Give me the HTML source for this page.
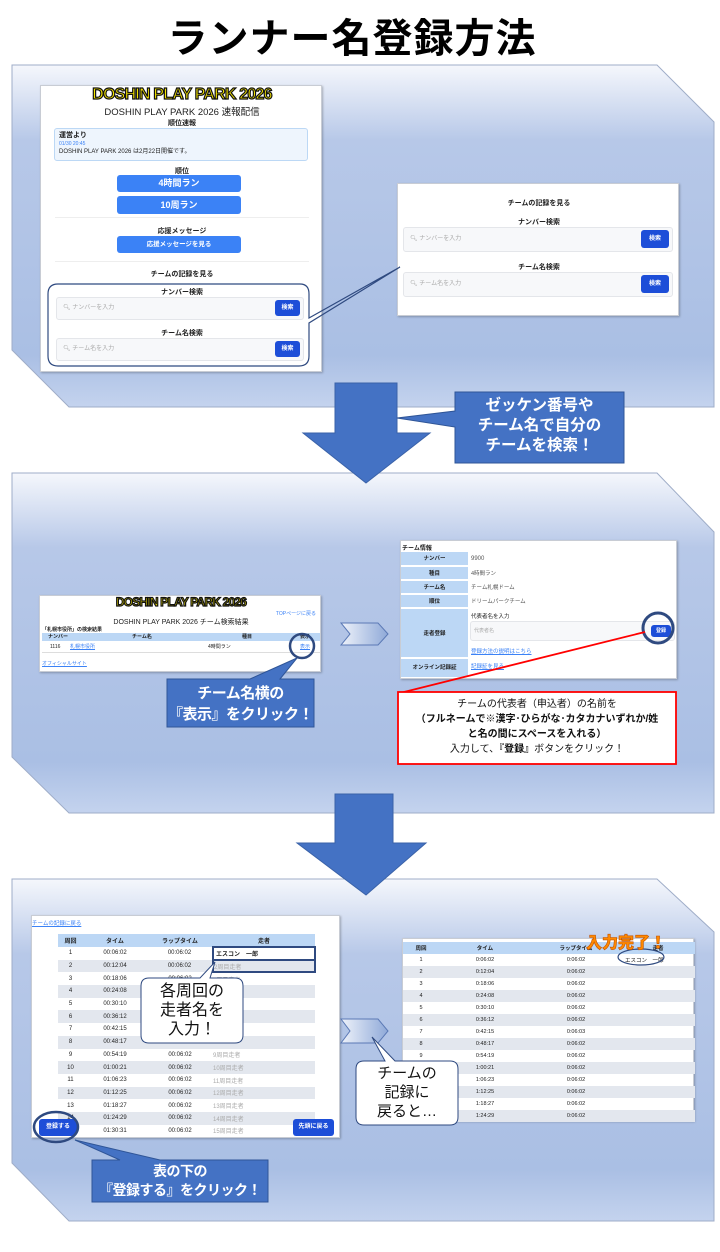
<!DOCTYPE html>
<html><head><meta charset="utf-8">
<style>
*{margin:0;padding:0;box-sizing:border-box}
body{width:720px;height:1252px;background:#fff;position:relative;overflow:hidden;font-family:"Liberation Sans","Noto Sans CJK JP",sans-serif;color:#222}
.a{position:absolute}
.c{text-align:center}
.ss{position:absolute;background:#fff;border:1px solid #c8ccd4;box-shadow:1px 1px 2px rgba(0,0,0,.25)}
.logo{font-weight:900;color:#f5e500;-webkit-text-stroke:1.2px #111;letter-spacing:-.8px;white-space:nowrap}
.btn{position:absolute;background:#3b82f6;color:#fff;border-radius:3px;text-align:center;font-weight:bold}
.db{position:absolute;background:#1d4ed8;color:#fff;border-radius:3px;text-align:center;font-size:6px;font-weight:bold}
.inp{position:absolute;background:#f7f8fa;border:1px solid #e4e6ea;border-radius:3px;font-size:6px;color:#aaa}
.t{font-size:7px;font-weight:bold;text-align:center;position:absolute}
table{border-collapse:collapse;position:absolute;font-size:6px;text-align:center;table-layout:fixed}
td,th{padding:0;overflow:hidden;white-space:nowrap}
.wt{color:#fff;text-align:center;position:absolute;white-space:nowrap}
</style></head><body>

<div class="a c" style="left:-8px;top:14px;width:720px;font-size:40px;font-weight:bold;letter-spacing:1px;color:#000;line-height:50px">ランナー名登録方法</div>

<svg class="a" style="left:0;top:0" width="720" height="1252">
<defs>
<linearGradient id="g" x1="0" y1="0" x2="0" y2="1">
<stop offset="0" stop-color="#f5f7fc"/><stop offset=".22" stop-color="#b7c8e8"/><stop offset=".85" stop-color="#aabfe4"/><stop offset="1" stop-color="#c4d3ee"/></linearGradient>
</defs>
<polygon points="12,65 657,65 714,122 714,407 69,407 12,350" fill="url(#g)" stroke="#9fadc8"/>
<polygon points="12,473 657,473 714,532 714,813 69,813 12,757" fill="url(#g)" stroke="#9fadc8"/>
<polygon points="12,879 657,879 714,932 714,1221 69,1221 12,1163" fill="url(#g)" stroke="#9fadc8"/>
</svg>

<!-- Screenshot 1 -->
<div class="ss" style="left:40px;top:85px;width:282px;height:287px">
<div class="a c logo" style="left:0;top:0;width:282px;font-size:16px">DOSHIN PLAY PARK 2026</div>
<div class="a c" style="left:0;top:18px;width:282px;font-size:9.5px">DOSHIN PLAY PARK 2026 速報配信</div>
<div class="t" style="left:0;top:32px;width:282px">順位速報</div>
<div class="a" style="left:13px;top:42px;width:254px;height:33px;background:#eef5fd;border:1px solid #bcd8f5;border-radius:3px;padding:3px 4px;font-size:6px;line-height:8px"><b style="font-size:7px">運営より</b><br><span style="color:#3b82f6;font-size:5px">01/30 20:45</span><br>DOSHIN PLAY PARK 2026 は2月22日開催です。</div>
<div class="t" style="left:0;top:80px;width:282px">順位</div>
<div class="btn" style="left:76px;top:89px;width:124px;height:17px;font-size:9px;line-height:17px">4時間ラン</div>
<div class="btn" style="left:76px;top:110px;width:124px;height:18px;font-size:9px;line-height:18px">10周ラン</div>
<div class="a" style="left:14px;top:131px;width:254px;border-top:1px solid #eee"></div>
<div class="t" style="left:0;top:140px;width:282px">応援メッセージ</div>
<div class="btn" style="left:76px;top:150px;width:124px;height:17px;font-size:6.5px;line-height:17px">応援メッセージを見る</div>
<div class="a" style="left:14px;top:175px;width:254px;border-top:1px solid #eee"></div>
<div class="t" style="left:0;top:183px;width:282px">チームの記録を見る</div>
<div class="t" style="left:0;top:201px;width:282px">ナンバー検索</div>
<div class="inp" style="left:15px;top:211px;width:248px;height:23px;line-height:21px;padding-left:6px">🔍︎ ナンバーを入力</div>
<div class="db" style="left:234px;top:214px;width:25px;height:16px;line-height:16px">検索</div>
<div class="t" style="left:0;top:242px;width:282px">チーム名検索</div>
<div class="inp" style="left:15px;top:252px;width:248px;height:23px;line-height:21px;padding-left:6px">🔍︎ チーム名を入力</div>
<div class="db" style="left:234px;top:255px;width:25px;height:16px;line-height:16px">検索</div>
</div>

<!-- Screenshot 2 -->
<div class="ss" style="left:397px;top:183px;width:282px;height:133px">
<div class="t" style="left:0;top:14px;width:282px">チームの記録を見る</div>
<div class="t" style="left:0;top:33px;width:282px">ナンバー検索</div>
<div class="inp" style="left:5px;top:43px;width:270px;height:25px;line-height:23px;padding-left:6px">🔍︎ ナンバーを入力</div>
<div class="db" style="left:243px;top:46px;width:28px;height:18px;line-height:18px">検索</div>
<div class="t" style="left:0;top:78px;width:282px">チーム名検索</div>
<div class="inp" style="left:5px;top:88px;width:270px;height:25px;line-height:23px;padding-left:6px">🔍︎ チーム名を入力</div>
<div class="db" style="left:243px;top:91px;width:28px;height:18px;line-height:18px">検索</div>
</div>

<!-- Screenshot 3 -->
<div class="ss" style="left:39px;top:595px;width:282px;height:77px">
<div class="a c logo" style="left:0;top:-1px;width:282px;font-size:12px">DOSHIN PLAY PARK 2026</div>
<div class="a" style="right:4px;top:14px;font-size:5px;color:#3b82f6">TOPページに戻る</div>
<div class="a c" style="left:0;top:21px;width:282px;font-size:7px">DOSHIN PLAY PARK 2026 チーム検索結果</div>
<div class="a" style="left:2px;top:30px;font-size:5px;font-weight:bold">「札幌市役所」の検索結果</div>
<div class="a" style="left:2px;top:37px;width:278px;height:8px;background:#bcd7f5;font-size:5px;font-weight:bold"><span class="a" style="left:6px">ナンバー</span><span class="a" style="left:90px">チーム名</span><span class="a" style="left:200px">種目</span><span class="a" style="left:258px">表示</span></div>
<div class="a" style="left:2px;top:45px;width:278px;height:12px;font-size:5px;line-height:12px;border-bottom:1px solid #ddd"><span class="a" style="left:8px">1116</span><span class="a" style="left:28px;color:#3b82f6;text-decoration:underline">札幌市役所</span><span class="a" style="left:166px">4時間ラン</span><span class="a" style="left:258px;color:#3b82f6;text-decoration:underline">表示</span></div>
<div class="a" style="left:2px;top:64px;font-size:5px;color:#3b82f6;text-decoration:underline">オフィシャルサイト</div>
</div>

<!-- Screenshot 4 -->
<div class="ss" style="left:400px;top:540px;width:277px;height:139px">
<div class="a" style="left:1px;top:2px;font-size:6px;font-weight:bold">チーム情報</div>
<div class="a" style="left:0;top:11px;width:67px;height:125px;background:#bcd7f5"></div>
<div class="a" style="left:0;top:11px;width:277px;font-size:5.5px">
<div class="a" style="left:0;top:0;width:67px;height:15px;line-height:15px;text-align:center;font-weight:bold;border-bottom:2px solid #fff">ナンバー</div><div class="a" style="left:70px;top:0;line-height:15px;font-size:6px;color:#555">9900</div>
<div class="a" style="left:0;top:15px;width:67px;height:14px;line-height:14px;text-align:center;font-weight:bold;border-bottom:2px solid #fff">種目</div><div class="a" style="left:70px;top:15px;line-height:14px;color:#555">4時間ラン</div>
<div class="a" style="left:0;top:29px;width:67px;height:14px;line-height:14px;text-align:center;font-weight:bold;border-bottom:2px solid #fff">チーム名</div><div class="a" style="left:70px;top:29px;line-height:14px;color:#555">チーム札幌ドーム</div>
<div class="a" style="left:0;top:43px;width:67px;height:14px;line-height:14px;text-align:center;font-weight:bold;border-bottom:2px solid #fff">順位</div><div class="a" style="left:70px;top:43px;line-height:14px;color:#555">ドリームパークチーム</div>
<div class="a" style="left:0;top:57px;width:67px;height:50px;line-height:50px;text-align:center;font-weight:bold;border-bottom:2px solid #fff">走者登録</div>
<div class="a" style="left:70px;top:60px">代表者名を入力</div>
<div class="inp" style="left:69px;top:69px;width:205px;height:20px;line-height:18px;padding-left:3px;font-size:5px">代表者名</div>
<div class="db" style="left:250px;top:73px;width:20px;height:12px;line-height:12px;font-size:5px">登録</div>
<div class="a" style="left:70px;top:95px;color:#3b82f6;text-decoration:underline">登録方法の説明はこちら</div>
<div class="a" style="left:0;top:107px;width:67px;height:18px;line-height:18px;text-align:center;font-weight:bold">オンライン記録証</div><div class="a" style="left:70px;top:107px;line-height:16px;color:#3b82f6;text-decoration:underline">記録証を見る</div>
</div>
</div>

<!-- Screenshot 5 -->
<div class="ss" style="left:31px;top:915px;width:309px;height:223px;overflow:hidden">
<div class="a" style="left:0;top:3px;font-size:5.5px;color:#3b82f6;text-decoration:underline">チームの記録に戻る</div>
<table style="left:26px;top:18px;width:257px">
<colgroup><col style="width:25px"><col style="width:64px"><col style="width:66px"><col style="width:102px"></colgroup>
<tr style="height:13px;background:#bcd7f5;font-weight:bold"><td>周回</td><td>タイム</td><td>ラップタイム</td><td>走者</td></tr>
<tr style="height:12.7px"><td>1</td><td>00:06:02</td><td>00:06:02</td><td style="text-align:left;border:2px solid #2f4a80;font-weight:bold;padding-left:2px">エスコン　一郎</td></tr>
<tr style="height:12.7px;background:#e3e7ee"><td>2</td><td>00:12:04</td><td>00:06:02</td><td style="text-align:left;border:2px solid #2f4a80;color:#aaa">2周目走者</td></tr>
<tr style="height:12.7px"><td>3</td><td>00:18:06</td><td>00:06:02</td><td style="text-align:left;color:#aaa">3周目走者</td></tr>
<tr style="height:12.7px;background:#e3e7ee"><td>4</td><td>00:24:08</td><td>00:06:02</td><td></td></tr>
<tr style="height:12.7px"><td>5</td><td>00:30:10</td><td>00:06:02</td><td></td></tr>
<tr style="height:12.7px;background:#e3e7ee"><td>6</td><td>00:36:12</td><td>00:06:02</td><td></td></tr>
<tr style="height:12.7px"><td>7</td><td>00:42:15</td><td>00:06:02</td><td></td></tr>
<tr style="height:12.7px;background:#e3e7ee"><td>8</td><td>00:48:17</td><td>00:06:02</td><td></td></tr>
<tr style="height:12.7px"><td>9</td><td>00:54:19</td><td>00:06:02</td><td style="text-align:left;color:#aaa">9周目走者</td></tr>
<tr style="height:12.7px;background:#e3e7ee"><td>10</td><td>01:00:21</td><td>00:06:02</td><td style="text-align:left;color:#aaa">10周目走者</td></tr>
<tr style="height:12.7px"><td>11</td><td>01:06:23</td><td>00:06:02</td><td style="text-align:left;color:#aaa">11周目走者</td></tr>
<tr style="height:12.7px;background:#e3e7ee"><td>12</td><td>01:12:25</td><td>00:06:02</td><td style="text-align:left;color:#aaa">12周目走者</td></tr>
<tr style="height:12.7px"><td>13</td><td>01:18:27</td><td>00:06:02</td><td style="text-align:left;color:#aaa">13周目走者</td></tr>
<tr style="height:12.7px;background:#e3e7ee"><td>14</td><td>01:24:29</td><td>00:06:02</td><td style="text-align:left;color:#aaa">14周目走者</td></tr>
<tr style="height:12.7px"><td>15</td><td>01:30:31</td><td>00:06:02</td><td style="text-align:left;color:#aaa">15周目走者</td></tr>
</table>
<div class="db" style="left:7px;top:203px;width:38px;height:17px;line-height:17px">登録する</div>
<div class="db" style="left:261px;top:203px;width:41px;height:17px;line-height:17px">先頭に戻る</div>
</div>

<!-- Screenshot 6 -->
<div class="ss" style="left:402px;top:938px;width:292px;height:183px">
<table style="left:0;top:3px;width:292px;font-size:5.5px">
<colgroup><col style="width:36px"><col style="width:92px"><col style="width:90px"><col style="width:74px"></colgroup>
<tr style="height:12px;background:#bcd7f5;font-weight:bold"><td>周回</td><td>タイム</td><td>ラップタイム</td><td>走者</td></tr>
<tr style="height:12px"><td>1</td><td>0:06:02</td><td>0:06:02</td><td style="text-align:left;padding-left:4px">エスコン　一郎</td></tr>
<tr style="height:12px;background:#e3e7ee"><td>2</td><td>0:12:04</td><td>0:06:02</td><td></td></tr>
<tr style="height:12px"><td>3</td><td>0:18:06</td><td>0:06:02</td><td></td></tr>
<tr style="height:12px;background:#e3e7ee"><td>4</td><td>0:24:08</td><td>0:06:02</td><td></td></tr>
<tr style="height:12px"><td>5</td><td>0:30:10</td><td>0:06:02</td><td></td></tr>
<tr style="height:12px;background:#e3e7ee"><td>6</td><td>0:36:12</td><td>0:06:02</td><td></td></tr>
<tr style="height:12px"><td>7</td><td>0:42:15</td><td>0:06:03</td><td></td></tr>
<tr style="height:12px;background:#e3e7ee"><td>8</td><td>0:48:17</td><td>0:06:02</td><td></td></tr>
<tr style="height:12px"><td>9</td><td>0:54:19</td><td>0:06:02</td><td></td></tr>
<tr style="height:12px;background:#e3e7ee"><td>10</td><td>1:00:21</td><td>0:06:02</td><td></td></tr>
<tr style="height:12px"><td>11</td><td>1:06:23</td><td>0:06:02</td><td></td></tr>
<tr style="height:12px;background:#e3e7ee"><td>12</td><td>1:12:25</td><td>0:06:02</td><td></td></tr>
<tr style="height:12px"><td>13</td><td>1:18:27</td><td>0:06:02</td><td></td></tr>
<tr style="height:12px;background:#e3e7ee"><td>14</td><td>1:24:29</td><td>0:06:02</td><td></td></tr>
</table>
</div>

<!-- Foreground shapes -->
<svg class="a" style="left:0;top:0" width="720" height="1252">
<defs><linearGradient id="ch" x1="0" y1="0" x2="1" y2="0"><stop offset="0" stop-color="#eef2fa"/><stop offset="1" stop-color="#8fa9d8"/></linearGradient></defs>
<path d="M48,294 Q48,284 58,284 L300,284 Q309,284 309,294 L309,318 L400,267 L309,323 L309,356 Q309,366 299,366 L58,366 Q48,366 48,356 Z" fill="none" stroke="#2f4a80" stroke-width="1.2"/>
<polygon points="335,383 397,383 397,433 430,433 366,483 303,433 335,433" fill="#4472c4" stroke="#3a62a8"/>
<polygon points="455,392 624,392 624,463 455,463 455,427 397,418 455,411" fill="#4472c4" stroke="#2f5597"/>
<polygon points="335,794 393,794 393,843 426,843 366,895 297,843 335,843" fill="#4472c4" stroke="#3a62a8"/>
<polygon points="341,623 378,623 388,634 378,645 341,645 350,634" fill="url(#ch)" stroke="#5b79b5"/>
<polygon points="341,1019 378,1019 388,1031 378,1043 341,1043 350,1031" fill="url(#ch)" stroke="#5b79b5"/>
<polygon points="167,679 250,679 297,658 280,679 314,679 314,727 167,727" fill="#4472c4" stroke="#2f5597"/>
<circle cx="302" cy="646" r="12" fill="none" stroke="#2f4a80" stroke-width="2.5"/>
<circle cx="658" cy="628" r="15" fill="none" stroke="#2f4a80" stroke-width="3"/>
<line x1="400" y1="693" x2="645" y2="632" stroke="#ff0000" stroke-width="1.8"/>
<rect x="398" y="692" width="278" height="72" fill="#fff" stroke="#ff0000" stroke-width="1.8"/>
<path d="M149,978 L200,978 L215,962 L210,978 L235,978 Q243,978 243,986 L243,1035 Q243,1043 235,1043 L149,1043 Q141,1043 141,1035 L141,986 Q141,978 149,978 Z" fill="#fff" stroke="#2f4a80"/>
<path d="M364,1061 L385,1061 L372,1037 L395,1061 L450,1061 Q458,1061 458,1069 L458,1117 Q458,1125 450,1125 L364,1125 Q356,1125 356,1117 L356,1069 Q356,1061 364,1061 Z" fill="#fff" stroke="#2f4a80"/>
<ellipse cx="56" cy="1127" rx="22" ry="15" fill="none" stroke="#2f4a80" stroke-width="2.5"/>
<polygon points="92,1160 120,1160 75,1140 160,1160 268,1160 268,1202 92,1202" fill="#4472c4" stroke="#2f5597"/>
<ellipse cx="641" cy="957" rx="23" ry="8" fill="none" stroke="#2f4a80" stroke-width="1.2"/>
</svg>

<div class="wt" style="left:455px;top:396px;width:169px;font-size:15.5px;line-height:20px;font-weight:bold">ゼッケン番号や<br>チーム名で自分の<br>チームを検索！</div>
<div class="wt" style="left:167px;top:683px;width:147px;font-size:15px;line-height:21px;font-weight:bold;letter-spacing:-.5px">チーム名横の<br>『表示』をクリック！</div>
<div class="a c" style="left:398px;top:697px;width:278px;font-size:10px;line-height:15px;color:#111">チームの代表者（申込者）の名前を<br><b>（フルネームで※漢字･ひらがな･カタカナいずれか/姓<br>と名の間にスペースを入れる）</b><br>入力して、<b>『登録』</b>ボタンをクリック！</div>
<div class="a c" style="left:141px;top:982px;width:102px;font-size:16px;line-height:19px;color:#111">各周回の<br>走者名を<br>入力！</div>
<div class="a c" style="left:356px;top:1064px;width:102px;font-size:15px;line-height:19px;color:#111">チームの<br>記録に<br>戻ると…</div>
<div class="wt" style="left:92px;top:1162px;width:176px;font-size:14px;line-height:19px;font-weight:bold;letter-spacing:-.5px">表の下の<br>『登録する』をクリック！</div>
<div class="a" style="left:586px;top:929px;font-size:16px;font-weight:900;color:#ff8a00;-webkit-text-stroke:.6px #c05000;white-space:nowrap">入力完了！</div>
</body></html>
